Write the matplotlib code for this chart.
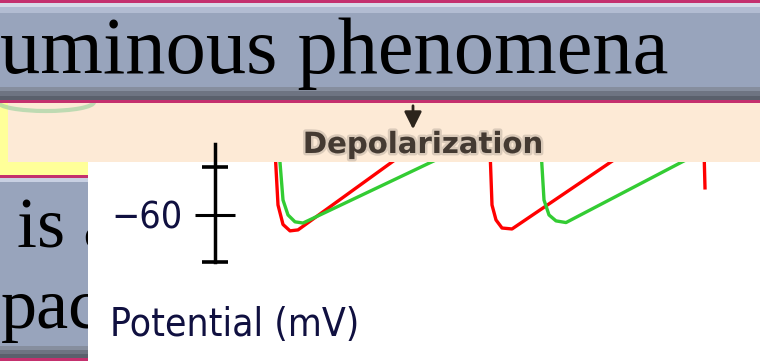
import matplotlib
matplotlib.use("Agg")
import matplotlib.pyplot as plt
import matplotlib.patches as mpatches
import matplotlib.patheffects as pe
from matplotlib.ticker import FixedLocator, FixedFormatter

plt.rcParams['font.family'] = ['DejaVu Sans']

# membrane potential traces: time (ms) and potential (mV)
red_t1 = [374, 380, 390, 404, 420, 614]
red_v1 = [-32.6, -55.8, -64.0, -66.7, -66.3, -36.8]
red_t2 = [804, 808, 816, 828, 848, 1052]
red_v2 = [-32.6, -55.8, -62.1, -65.5, -65.9, -36.8]
red_t3 = [1232, 1234]
red_v3 = [-32.6, -48.6]

green_t1 = [382, 390, 400, 414, 430, 696]
green_v1 = [-32.6, -53.7, -60.0, -62.9, -63.4, -36.8]
green_t2 = [906, 912, 922, 936, 956, 1196]
green_v2 = [-32.6, -53.7, -60.0, -62.5, -63.2, -36.8]

# scale bar on the potential axis
scale_major = [-60]
scale_minor = [-80, -40]
scale_labels = ["\u221260"]

title_text = "uminous phenomena"
side_lines = ["is a", "pac"]
caption = "Depolarization"
ylabel = "Potential (mV)"

RED = '#ff0000'
GREEN = '#33cc33'
BAR = '#98a4bc'
PINK = '#c4306e'
INK = '#101040'

fig = plt.figure(figsize=(7.6, 3.61), dpi=100)

# slide background, pixel coordinates
bg = fig.add_axes([0, 0, 1, 1])
bg.set_xlim(0, 760)
bg.set_ylim(361, 0)
bg.axis('off')

def band(x, y, w, h, c, z=1):
    r = mpatches.Rectangle((x, y), w, h, facecolor=c, edgecolor='none', zorder=z)
    bg.add_patch(r)
    return r

# title bar
band(0, 0, 760, 3, PINK)
band(0, 3, 760, 4, '#d6dbe8')
band(0, 7, 760, 6, '#b2bcd2')
band(0, 13, 760, 74, BAR)
band(0, 87, 760, 4, '#868e9e')
band(0, 91, 760, 5, '#6e7482')
band(0, 96, 760, 4, '#5a606c')
band(0, 100, 760, 3, PINK, z=2.5)

# picture strip with caption
band(0, 103, 8, 72, '#ffff99')
band(0, 162, 88, 13, '#ffff99')
band(8, 103, 752, 59, '#fdead6')
bg.add_patch(mpatches.Arc((46, 102), 96, 18, theta1=0, theta2=180,
                          color='#a4d4a4', lw=3, alpha=0.7, zorder=2))
bg.annotate('', xy=(413, 132), xytext=(413, 103),
            arrowprops=dict(arrowstyle='-|>', color='#2c241c', lw=2,
                            mutation_scale=26), zorder=3)
bg.text(423, 145, caption, ha='center', va='center', fontsize=21,
        fontweight='bold', color='#443a32', zorder=3,
        path_effects=[pe.withStroke(linewidth=3.5, foreground='#8a8078', alpha=0.3)])

# second text bar on the left
band(0, 175, 88, 3, PINK)
band(0, 178, 88, 4, '#c8d0e2')
band(0, 182, 88, 164, BAR)
band(0, 346, 88, 4, '#868e9e')
band(0, 350, 88, 4, '#6e7482')
band(0, 354, 88, 4, '#5a606c')
band(0, 358, 88, 3, PINK)

bg.text(0, 73, title_text, fontsize=58, family='Liberation Serif',
        va='baseline', ha='left', color='black', zorder=4)
bg.text(17, 248, side_lines[0], fontsize=52, family='Liberation Serif',
        va='baseline', ha='left', color='black', zorder=4)
bg.text(1, 328, side_lines[1], fontsize=52, family='Liberation Serif',
        va='baseline', ha='left', color='black', zorder=4)

# potential traces panel
ax = fig.add_axes([88 / 760, 0, 672 / 760, 199 / 361])
ax.set_facecolor('white')
ax.set_xlim(0, 1344)
ax.set_ylim(-121.5, -37.7)

for t, v in [(red_t1, red_v1), (red_t2, red_v2), (red_t3, red_v3)]:
    ax.plot(t, v, color=RED, lw=2.4, solid_joinstyle='round')
for t, v in [(green_t1, green_v1), (green_t2, green_v2)]:
    ax.plot(t, v, color=GREEN, lw=2.4, solid_joinstyle='round')

for s in ['top', 'right', 'bottom']:
    ax.spines[s].set_visible(False)
ax.spines['left'].set_position(('data', 254))
ax.spines['left'].set_bounds(-80, -30)
ax.spines['left'].set_linewidth(2.5)
ax.set_xticks([])

ax.yaxis.set_major_locator(FixedLocator(scale_major))
ax.yaxis.set_major_formatter(FixedFormatter(scale_labels))
ax.yaxis.set_minor_locator(FixedLocator(scale_minor))
ax.tick_params(axis='y', which='major', direction='inout', length=29, width=2.2,
               pad=9, labelsize=27, labelcolor=INK)
ax.tick_params(axis='y', which='minor', direction='inout', length=19, width=2.6)
for lbl in ax.get_yticklabels():
    lbl.set_fontstretch('condensed')

ax.set_ylabel(ylabel, rotation=0, fontsize=28, color=INK, ha='left', va='center',
              fontstretch='condensed')
ax.yaxis.set_label_coords(22 / 672, (361 - 325) / 199)

fig.savefig('out.png', dpi=100)
